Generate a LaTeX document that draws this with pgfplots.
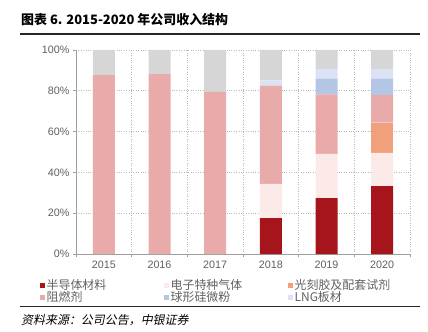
\documentclass[border=0pt]{standalone}
\usepackage{pgfplots}
\usepackage{pgfplotstable}
\pgfplotsset{compat=1.18}
\usepackage{fontspec}
\setmainfont{Liberation Sans}
\newfontfamily\cjk{Noto Sans CJK SC}
\newfontfamily\cjkit{Noto Sans CJK SC}[FakeSlant=0.2]
\definecolor{c1}{HTML}{A6151B}
\definecolor{c2}{HTML}{FBEAE8}
\definecolor{c3}{HTML}{F0A07B}
\definecolor{c4}{HTML}{E9AAAA}
\definecolor{c5}{HTML}{B3C6E6}
\definecolor{c6}{HTML}{DAE2F4}
\definecolor{c7}{HTML}{D6D6D6}
\definecolor{tk}{HTML}{606060}
\pgfplotstableread{
x semi gas photo flame silica lng other
0 0    0    0    87.7 0   0   12.3
1 0    0    0    88.2 0   0   11.8
2 0    0    0    79.5 0   0   20.5
3 17.6 16.8 0    48.1 0   2.6 14.9
4 27.4 21.7 0    29.2 7.5 4.9 9.3
5 33.3 16.3 14.8 13.6 7.8 4.9 9.3
}\datatable
\begin{document}
\begin{tikzpicture}[x=1bp,y=1bp]
\path[use as bounding box] (0,0) rectangle (428,332);
\node[anchor=west, inner sep=0] at (21,312) {\cjk\bfseries\fontsize{13}{15}\selectfont 图表 6. 2015-2020 年公司收入结构};
\draw[line width=1.2bp, black!85] (20,298) -- (420,298);
\draw[line width=1bp, black!85] (20,25) -- (420,25);
\node[anchor=west, inner sep=0] at (21,12) {\cjkit\fontsize{12}{14}\selectfont 资料来源：公司公告，中银证券};
\begin{axis}[
  at={(76bp,78bp)}, anchor=south west, scale only axis,
  width=334bp, height=204bp,
  ybar stacked, bar width=22bp,
  xmin=-0.5, xmax=5.5, ymin=0, ymax=100,
  axis x line*=bottom, axis y line*=left,
  axis line style={draw=gray!75, line width=0.6bp, -},
  xtick={-0.5,0.5,1.5,2.5,3.5,4.5,5.5}, xticklabels={,,,,,,},
  extra x ticks={0,1,2,3,4,5},
  extra x tick labels={2015,2016,2017,2018,2019,2020},
  extra x tick style={grid=none, major tick length=0pt, xticklabel style={yshift=-3.5bp}},
  ytick={0,20,...,100},
  yticklabel={\pgfmathprintnumber{\tick}\%},
  tick align=outside, major tick length=3bp,
  tick style={draw=gray!75, line width=0.6bp},
  xmajorgrids, ymajorgrids,
  major grid style={dotted, draw=gray!55, line width=0.7bp},
  ticklabel style={font=\fontsize{10.8}{12}\selectfont, text=tk},
  /pgf/number format/assume math mode=true,
  legend columns=3,
  legend cell align=left,
  legend style={at={(-0.108,-0.125)}, anchor=north west, draw=none, fill=none,
    inner sep=0pt, font=\cjk\fontsize{12}{12}\selectfont, text=tk,
    nodes={inner xsep=1.5bp, inner ysep=0.3bp, text height=9bp, text depth=2.5bp, text width=116bp}},
  sq/.style={legend image code/.code={\fill[##1] (0bp,-2.5bp) rectangle (5bp,2.5bp);}},
]
\addplot[fill=c1, draw=none, sq] table[x=x, y=semi] {\datatable};
\addlegendentry{半导体材料}
\addplot[fill=c2, draw=none, sq] table[x=x, y=gas] {\datatable};
\addlegendentry{电子特种气体}
\addplot[fill=c3, draw=none, sq] table[x=x, y=photo] {\datatable};
\addlegendentry{光刻胶及配套试剂}
\addplot[fill=c4, draw=none, sq] table[x=x, y=flame] {\datatable};
\addlegendentry{阻燃剂}
\addplot[fill=c5, draw=none, sq] table[x=x, y=silica] {\datatable};
\addlegendentry{球形硅微粉}
\addplot[fill=c6, draw=none, sq] table[x=x, y=lng] {\datatable};
\addlegendentry{LNG板材}
\addplot[fill=c7, draw=none, forget plot] table[x=x, y=other] {\datatable};
\end{axis}
\end{tikzpicture}
\end{document}
